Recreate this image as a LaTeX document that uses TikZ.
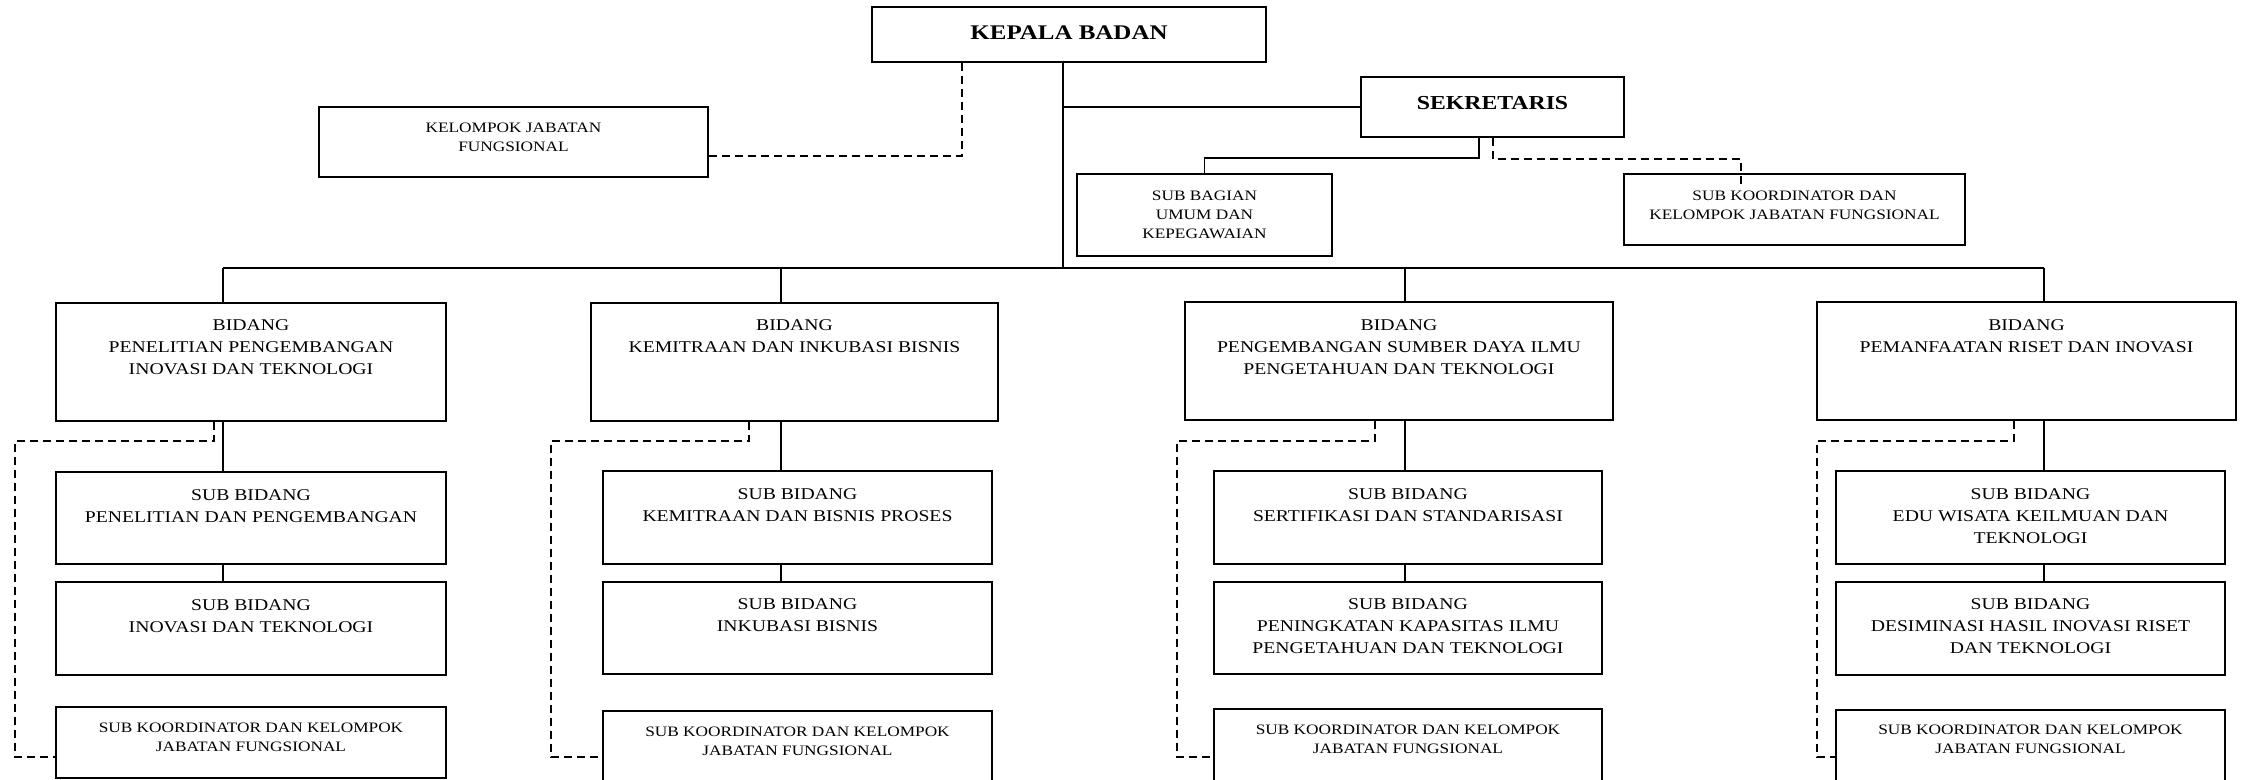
\documentclass[tikz,border=0pt]{standalone}
\usepackage{fontspec}
\setmainfont{Liberation Serif}[FakeStretch=1.2]
\usetikzlibrary{fit}
\tikzset{
  box/.style={draw, line width=0.9pt, inner sep=0pt},
  lbl/.style={align=center, inner sep=0pt, font=\fontsize{8.2}{11}\selectfont},
  sml/.style={align=center, inner sep=0pt, font=\fontsize{7.2}{9.5}\selectfont},
  hd/.style={inner sep=0pt, font=\fontsize{#1}{13}\selectfont\bfseries},
  conn/.style={line width=0.6pt},
  bus/.style={line width=1pt},
  dsh/.style={line width=0.8pt, dash pattern=on 4pt off 2.5pt}
}
\begin{document}
\begin{tikzpicture}[x=0.5pt,y=-0.5pt]
\useasboundingbox (0,0) rectangle (2245,780);
% top level
\node[box, fit={(872,7)(1266,62)}] (kep) {};
\node[hd=10.4] (kept) at (1069,33) {KEPALA BADAN};
\node[box, fit={(1361,77)(1624,137)}] (sek) {};
\node[hd=9.9] (sekt) at (1492.5,103) {SEKRETARIS};
\node[box, fit={(319,107)(708,177)}] (kel) {};
\node[sml] (kelt) at (513.5,137.5) {KELOMPOK JABATAN\\FUNGSIONAL};
\node[box, fit={(1077,174)(1332,256)}] (subbag) {};
\node[sml] (subbagt) at (1204.5,214.5) {SUB BAGIAN\\UMUM DAN\\KEPEGAWAIAN};
\node[box, fit={(1624,174)(1965,245)}] (skt) {};
\node[sml] (sktt) at (1794.5,205.5) {SUB KOORDINATOR DAN\\KELOMPOK JABATAN FUNGSIONAL};
% column 1
\node[box, fit={(56,303)(446,421)}] (b1) {};
\node[lbl] (b1t) at (251,347) {BIDANG\\PENELITIAN PENGEMBANGAN\\INOVASI DAN TEKNOLOGI};
\node[box, fit={(56,472)(446,564)}] (s1a) {};
\node[lbl] (s1at) at (251,506) {SUB BIDANG\\PENELITIAN DAN PENGEMBANGAN};
\node[box, fit={(56,582)(446,675)}] (s1b) {};
\node[lbl] (s1bt) at (251,616) {SUB BIDANG\\INOVASI DAN TEKNOLOGI};
\node[box, fit={(56,707)(446,778)}] (k1) {};
\node[sml] (k1t) at (251,737.5) {SUB KOORDINATOR DAN KELOMPOK\\JABATAN FUNGSIONAL};
% column 2
\node[box, fit={(591,303)(998,421)}] (b2) {};
\node[lbl] (b2t) at (794.5,336) {BIDANG\\KEMITRAAN DAN INKUBASI BISNIS};
\node[box, fit={(603,471)(992,564)}] (s2a) {};
\node[lbl] (s2at) at (797.5,505) {SUB BIDANG\\KEMITRAAN DAN BISNIS PROSES};
\node[box, fit={(603,582)(992,674)}] (s2b) {};
\node[lbl] (s2bt) at (797.5,615) {SUB BIDANG\\INKUBASI BISNIS};
\node[box, fit={(603,711)(992,782)}] (k2) {};
\node[sml] (k2t) at (797.5,741.5) {SUB KOORDINATOR DAN KELOMPOK\\JABATAN FUNGSIONAL};
% column 3
\node[box, fit={(1185,302)(1613,420)}] (b3) {};
\node[lbl] (b3t) at (1399,347) {BIDANG\\PENGEMBANGAN SUMBER DAYA ILMU\\PENGETAHUAN DAN TEKNOLOGI};
\node[box, fit={(1214,471)(1602,564)}] (s3a) {};
\node[lbl] (s3at) at (1408,505) {SUB BIDANG\\SERTIFIKASI DAN STANDARISASI};
\node[box, fit={(1214,582)(1602,674)}] (s3b) {};
\node[lbl] (s3bt) at (1408,626) {SUB BIDANG\\PENINGKATAN KAPASITAS ILMU\\PENGETAHUAN DAN TEKNOLOGI};
\node[box, fit={(1214,709)(1602,782)}] (k3) {};
\node[sml] (k3t) at (1408,739.5) {SUB KOORDINATOR DAN KELOMPOK\\JABATAN FUNGSIONAL};
% column 4
\node[box, fit={(1817,302)(2236,420)}] (b4) {};
\node[lbl] (b4t) at (2026.5,336) {BIDANG\\PEMANFAATAN RISET DAN INOVASI};
\node[box, fit={(1836,471)(2225,564)}] (s4a) {};
\node[lbl] (s4at) at (2030.5,516.5) {SUB BIDANG\\EDU WISATA KEILMUAN DAN\\TEKNOLOGI};
\node[box, fit={(1836,582)(2225,675)}] (s4b) {};
\node[lbl] (s4bt) at (2030.5,626) {SUB BIDANG\\DESIMINASI HASIL INOVASI RISET\\DAN TEKNOLOGI};
\node[box, fit={(1836,710)(2225,782)}] (k4) {};
\node[sml] (k4t) at (2030.5,739.5) {SUB KOORDINATOR DAN KELOMPOK\\JABATAN FUNGSIONAL};
% coordinates
\coordinate (busK) at (1063,268);
\coordinate (c1) at (223,268);
\coordinate (c2) at (781,268);
\coordinate (c3) at (1405,268);
\coordinate (c4) at (2044,268);
% top connectors
\draw[conn] (kep.south -| busK) -- (busK);
\draw[conn] (sek.west -| busK) -- (sek.west);
\draw[bus] (c1) -- (c4);
\coordinate (dk) at (962,156);
\draw[dsh] (kep.south -| dk) -- (dk) -- (dk -| kel.east);
\coordinate (sj1) at (1479,158);
\coordinate (sj2) at (1204.5,158);
\draw[conn] (sek.south -| sj1) -- (sj1) -- (sj2) -- (subbag.north);
\coordinate (sd1) at (1493,159);
\coordinate (sd2) at (1741,159);
\coordinate (sd3) at (1741,187);
\draw[dsh] (sek.south -| sd1) -- (sd1) -- (sd2) -- (sd3);
% columns
\foreach \c/\b/\sa/\sb in {c1/b1/s1a/s1b, c2/b2/s2a/s2b, c3/b3/s3a/s3b, c4/b4/s4a/s4b}{
  \draw[conn] (\c) -- (\b.north -| \c);
  \draw[conn] (\b.south -| \c) -- (\sa.north -| \c);
  \draw[conn] (\sa.south -| \c) -- (\sb.north -| \c);
}
% dashed side links
\coordinate (d1a) at (214,441); \coordinate (d1b) at (15,441); \coordinate (d1c) at (15,757);
\coordinate (d2a) at (749,441); \coordinate (d2b) at (551,441); \coordinate (d2c) at (551,757);
\coordinate (d3a) at (1375,441); \coordinate (d3b) at (1177,441); \coordinate (d3c) at (1177,757);
\coordinate (d4a) at (2014,441); \coordinate (d4b) at (1817,441); \coordinate (d4c) at (1817,757);
\draw[dsh] (b1.south -| d1a) -- (d1a) -- (d1b) -- (d1c) -- (d1c -| k1.west);
\draw[dsh] (b2.south -| d2a) -- (d2a) -- (d2b) -- (d2c) -- (d2c -| k2.west);
\draw[dsh] (b3.south -| d3a) -- (d3a) -- (d3b) -- (d3c) -- (d3c -| k3.west);
\draw[dsh] (b4.south -| d4a) -- (d4a) -- (d4b) -- (d4c) -- (d4c -| k4.west);
\end{tikzpicture}
\end{document}
